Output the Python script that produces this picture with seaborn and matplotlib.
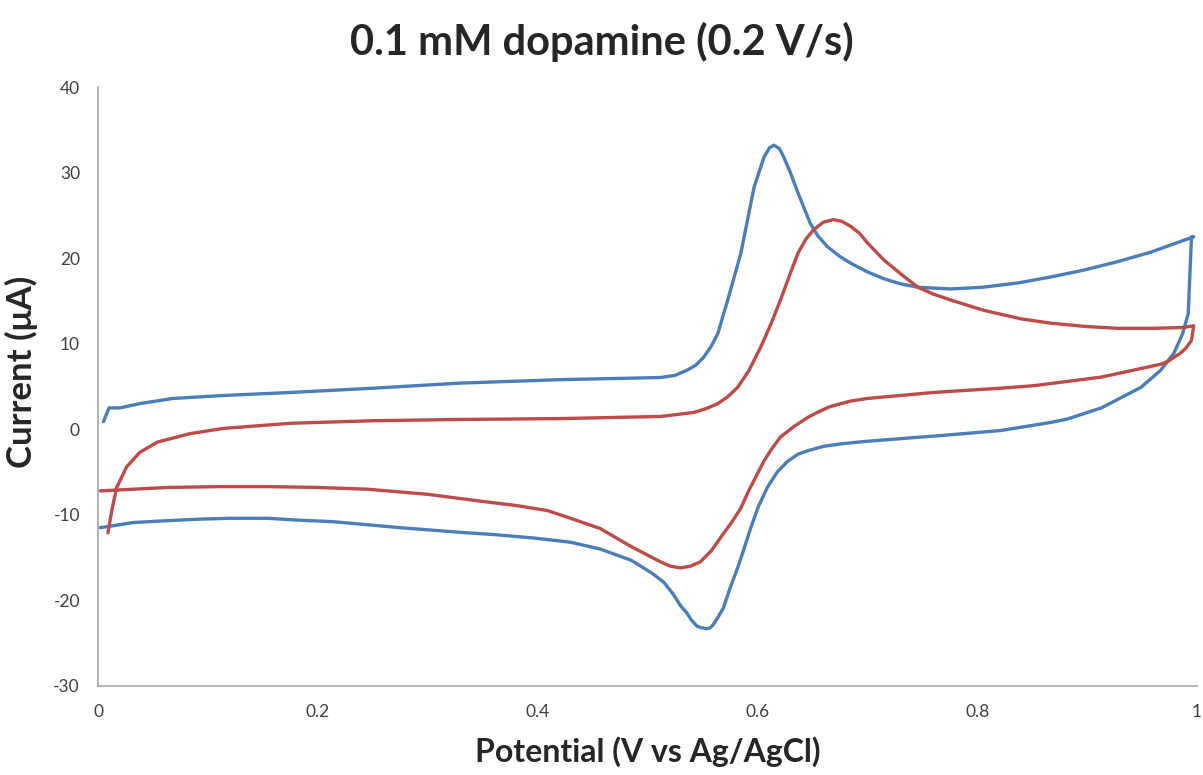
import numpy as np
import pandas as pd
import matplotlib
matplotlib.use("Agg")
import matplotlib.pyplot as plt
import seaborn as sns

# ---- data ----
blue_fwd_x = [0.005, 0.010, 0.020, 0.038, 0.068, 0.114, 0.175, 0.25, 0.33, 0.421, 0.512, 0.525, 0.536, 0.544,
              0.551, 0.558, 0.564, 0.573, 0.585, 0.597, 0.606, 0.611, 0.615, 0.620, 0.624, 0.630, 0.637, 0.648,
              0.655, 0.664, 0.675, 0.685, 0.700, 0.715, 0.730, 0.746, 0.776, 0.805, 0.837, 0.867, 0.897, 0.928,
              0.958, 0.997]
blue_fwd_y = [0.9, 2.5, 2.5, 3.0, 3.6, 3.95, 4.3, 4.8, 5.4, 5.8, 6.05, 6.3, 6.9, 7.5,
              8.4, 9.7, 11.2, 15.1, 20.6, 28.3, 31.8, 32.9, 33.2, 32.8, 31.8, 30.0, 27.6, 24.1,
              22.6, 21.3, 20.2, 19.4, 18.4, 17.6, 17.0, 16.6, 16.4, 16.6, 17.1, 17.8, 18.6, 19.6,
              20.7, 22.5]
blue_rev_x = [0.995, 0.992, 0.987, 0.979, 0.967, 0.949, 0.913, 0.882, 0.867, 0.821, 0.77, 0.73, 0.700, 0.676,
              0.660, 0.646, 0.637, 0.627, 0.618, 0.609, 0.601, 0.594, 0.588, 0.582, 0.575, 0.569, 0.564, 0.560,
              0.557, 0.554, 0.549, 0.545, 0.540, 0.536, 0.530, 0.523, 0.515, 0.505, 0.494, 0.485, 0.457, 0.43,
              0.396, 0.36, 0.336, 0.275, 0.214, 0.18, 0.154, 0.12, 0.093, 0.06, 0.032, 0.002]
blue_rev_y = [22.5, 13.5, 11.2, 8.9, 6.9, 4.9, 2.5, 1.2, 0.8, -0.15, -0.7, -1.1, -1.4, -1.7,
              -2.0, -2.5, -2.9, -3.8, -5.0, -6.8, -9.0, -11.5, -13.9, -16.2, -18.6, -20.9, -22.0, -22.8,
              -23.2, -23.3, -23.2, -23.0, -22.3, -21.5, -20.6, -19.2, -17.9, -16.9, -16.0, -15.3, -14.0, -13.2,
              -12.7, -12.3, -12.1, -11.5, -10.8, -10.6, -10.4, -10.4, -10.5, -10.7, -10.9, -11.5]

red_fwd_x = [0.009, 0.013, 0.017, 0.026, 0.038, 0.054, 0.084, 0.114, 0.175, 0.25, 0.33, 0.421, 0.512, 0.542,
             0.553, 0.564, 0.573, 0.582, 0.592, 0.603, 0.612, 0.621, 0.629, 0.637, 0.644, 0.651, 0.660, 0.669,
             0.677, 0.685, 0.693, 0.700, 0.715, 0.730, 0.746, 0.760, 0.776, 0.806, 0.840, 0.867, 0.900, 0.928,
             0.960, 0.988, 0.997]
red_fwd_y = [-12.1, -9.2, -6.8, -4.4, -2.7, -1.5, -0.5, 0.1, 0.7, 1.0, 1.15, 1.25, 1.5, 1.96,
             2.4, 3.0, 3.8, 4.9, 6.8, 9.6, 12.2, 15.1, 17.9, 20.6, 22.2, 23.3, 24.2, 24.5,
             24.3, 23.7, 22.9, 21.8, 19.8, 18.2, 16.6, 15.8, 15.1, 13.9, 12.9, 12.4, 12.0, 11.8,
             11.8, 11.9, 12.1]
red_rev_x = [0.995, 0.990, 0.985, 0.973, 0.967, 0.913, 0.852, 0.821, 0.76, 0.700, 0.685, 0.676, 0.665, 0.655,
             0.646, 0.633, 0.621, 0.613, 0.606, 0.600, 0.592, 0.585, 0.577, 0.569, 0.558, 0.548, 0.539, 0.530,
             0.521, 0.512, 0.503, 0.494, 0.485, 0.457, 0.43, 0.409, 0.38, 0.348, 0.30, 0.245, 0.20, 0.154,
             0.11, 0.063, 0.002]
red_rev_y = [10.4, 9.5, 8.9, 7.9, 7.6, 6.1, 5.1, 4.8, 4.3, 3.6, 3.3, 3.0, 2.6, 2.0,
             1.4, 0.3, -0.9, -2.3, -3.7, -5.2, -7.2, -9.2, -10.8, -12.2, -14.2, -15.5, -16.0, -16.2,
             -16.0, -15.5, -14.9, -14.3, -13.7, -11.6, -10.4, -9.5, -8.9, -8.4, -7.6, -7.0, -6.8, -6.7,
             -6.7, -6.8, -7.2]

x_ticks = [0, 0.2, 0.4, 0.6, 0.8, 1]
x_tick_labels = ["0", "0.2", "0.4", "0.6", "0.8", "1"]
y_ticks = [-30, -20, -10, 0, 10, 20, 30, 40]

series_names = ["scan 1", "scan 2"]
colors = {"scan 1": "#4A7EBB", "scan 2": "#BE4B48"}

bx = blue_fwd_x + blue_rev_x
by = blue_fwd_y + blue_rev_y
rx = red_fwd_x + red_rev_x
ry = red_fwd_y + red_rev_y
df = pd.DataFrame({
    "Potential": bx + rx,
    "Current": by + ry,
    "series": [series_names[0]] * len(bx) + [series_names[1]] * len(rx),
})

sns.set_style("white")
plt.rcParams['font.family'] = ['Lato', 'DejaVu Sans']
plt.rcParams['axes.unicode_minus'] = False

fig = plt.figure(figsize=(12.03, 7.75), dpi=100)
ax = fig.add_axes([98 / 1203, 89 / 775, 1099 / 1203, 599 / 775])

sns.lineplot(data=df, x="Potential", y="Current", hue="series", palette=colors,
             sort=False, estimator=None, legend=False, linewidth=2.4, ax=ax)
for ln in ax.lines:
    ln.set_solid_joinstyle("round")
    ln.set_solid_capstyle("round")

ax.set_xlim(0, 1)
ax.set_ylim(-30, 40)
ax.set_xticks(x_ticks)
ax.set_xticklabels(x_tick_labels)
ax.set_yticks(y_ticks)

for s in ["top", "right"]:
    ax.spines[s].set_visible(False)
for s in ["left", "bottom"]:
    ax.spines[s].set_color("#a6a6a6")
    ax.spines[s].set_linewidth(1.2)
ax.tick_params(axis="both", which="major", direction="out", length=5, width=1,
               color="#a6a6a6", labelsize=12.5, labelcolor="#404040", pad=8)

ax.set_xlabel("Potential (V vs Ag/AgCl)", fontsize=23, fontweight="bold", labelpad=12)
ax.set_ylabel("Current (μA)", fontsize=25, fontweight="bold")
ax.yaxis.set_label_coords(-0.055, 0.525)

fig.suptitle("0.1 mM dopamine (0.2 V/s)", fontsize=30, fontweight="bold", x=0.5, y=0.972)

fig.savefig("out.png", dpi=100, facecolor="white")
